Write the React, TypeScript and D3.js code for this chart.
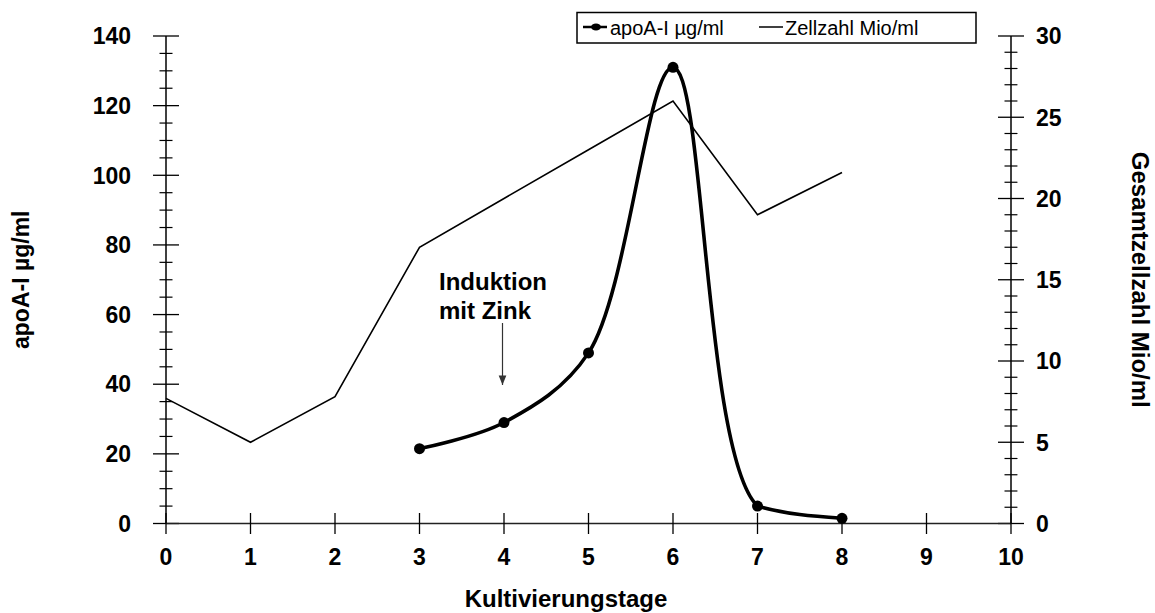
import React from "react";
import * as d3 from "d3";

// Kultivierungstage
const days = [0, 1, 2, 3, 4, 5, 6, 7, 8];
const apoDays = [3, 4, 5, 6, 7, 8];
const apoValues = [21.5, 29, 49, 131, 5, 1.5];
const cellValues = [7.7, 5, 7.8, 17, 20, 23, 26, 19, 21.6];
const xTicks = [0, 1, 2, 3, 4, 5, 6, 7, 8, 9, 10];
const leftTicks = [0, 20, 40, 60, 80, 100, 120, 140];
const rightTicks = [0, 5, 10, 15, 20, 25, 30];

const W = 1155;
const H = 613;
const left = 166;
const right = 1011;
const top = 36;
const bottom = 523.5;
const font = "Arial, 'Liberation Sans', Helvetica, sans-serif";

const App: React.FC = () => {
  const x = d3.scaleLinear().domain([0, 10]).range([left, right]);
  const yL = d3.scaleLinear().domain([0, 140]).range([bottom, top]);
  const yR = d3.scaleLinear().domain([0, 30]).range([bottom, top]);

  // smoothed line: catmull-rom up to day 7, monotone tail so it doesn't dip
  const apoLine = d3
    .line<number>()
    .x((_, i) => x(apoDays[i]))
    .y((d) => yL(d))
    .curve(d3.curveCatmullRom.alpha(0.5));
  const apoTail = d3
    .line<number>()
    .x((_, i) => x(apoDays[i]))
    .y((d) => yL(d))
    .curve(d3.curveMonotoneX);
  const split = x(7);

  const cellLine = d3
    .line<number>()
    .x((_, i) => x(days[i]))
    .y((d) => yR(d));

  const leftMinor = d3.range(0, 141, 5).filter((v) => v % 20 !== 0);
  const rightMinor = d3.range(0, 31, 1).filter((v) => v % 5 !== 0);

  return (
    <svg
      width={W}
      height={H}
      style={{ position: "absolute", left: 0, top: 0, background: "#fff" }}
      fontFamily={font}
    >
      <defs>
        <marker
          id="arrow"
          viewBox="0 0 10 10"
          refX="10"
          refY="5"
          markerWidth="8"
          markerHeight="8"
          orient="auto"
        >
          <path d="M0,1 L10,5 L0,9 z" fill="#333" />
        </marker>
        <clipPath id="clipA">
          <rect x={0} y={0} width={split} height={H} />
        </clipPath>
        <clipPath id="clipB">
          <rect x={split} y={0} width={W - split} height={H} />
        </clipPath>
      </defs>

      {/* left axis */}
      <line x1={left} x2={left} y1={top} y2={bottom} stroke="#000" strokeWidth={1.5} />
      {leftTicks.map((t) => (
        <g key={"l" + t}>
          <line x1={left - 13} x2={left + 13} y1={yL(t)} y2={yL(t)} stroke="#000" strokeWidth={1.3} />
          <text
            x={131}
            y={yL(t)}
            dy="0.36em"
            textAnchor="end"
            fontSize={23}
            fontWeight="bold"
          >
            {t}
          </text>
        </g>
      ))}
      {leftMinor.map((t) => (
        <line key={"lm" + t} x1={left - 6.5} x2={left + 6.5} y1={yL(t)} y2={yL(t)} stroke="#000" strokeWidth={1.2} />
      ))}

      {/* right axis */}
      <line x1={right} x2={right} y1={top} y2={bottom} stroke="#000" strokeWidth={1.5} />
      {rightTicks.map((t) => (
        <g key={"r" + t}>
          <line x1={right - 13} x2={right + 13} y1={yR(t)} y2={yR(t)} stroke="#000" strokeWidth={1.3} />
          <text
            x={1036}
            y={yR(t)}
            dy="0.36em"
            textAnchor="start"
            fontSize={23}
            fontWeight="bold"
          >
            {t}
          </text>
        </g>
      ))}
      {rightMinor.map((t) => (
        <line key={"rm" + t} x1={right - 6.5} x2={right + 6.5} y1={yR(t)} y2={yR(t)} stroke="#000" strokeWidth={1.2} />
      ))}

      {/* x axis */}
      <line x1={left} x2={right} y1={bottom} y2={bottom} stroke="#222" strokeWidth={1.5} />
      {xTicks.map((t) => (
        <g key={"x" + t}>
          <line x1={x(t)} x2={x(t)} y1={bottom - 10.5} y2={bottom + 10.5} stroke="#000" strokeWidth={1.3} />
          <text x={x(t)} y={565} textAnchor="middle" fontSize={23} fontWeight="bold">
            {t}
          </text>
        </g>
      ))}

      {/* axis titles */}
      <text x={566} y={607} textAnchor="middle" fontSize={24} fontWeight="bold">
        Kultivierungstage
      </text>
      <text
        transform={`translate(29,${(top + bottom) / 2}) rotate(-90)`}
        textAnchor="middle"
        fontSize={23}
        fontWeight="bold"
      >
        apoA-I µg/ml
      </text>
      <text
        transform={`translate(1132,${(top + bottom) / 2}) rotate(90)`}
        textAnchor="middle"
        fontSize={24}
        fontWeight="bold"
      >
        Gesamtzellzahl Mio/ml
      </text>

      {/* Zellzahl */}
      <path d={cellLine(cellValues) ?? ""} fill="none" stroke="#000" strokeWidth={1.6} />

      {/* apoA-I */}
      <path d={apoLine(apoValues) ?? ""} fill="none" stroke="#000" strokeWidth={3.6} clipPath="url(#clipA)" />
      <path d={apoTail(apoValues) ?? ""} fill="none" stroke="#000" strokeWidth={3.6} clipPath="url(#clipB)" />
      {apoValues.map((v, i) => (
        <circle key={"c" + i} cx={x(apoDays[i])} cy={yL(v)} r={5.5} fill="#000" />
      ))}

      {/* annotation */}
      <text x={439} y={290} fontSize={24} fontWeight="bold">
        <tspan x={439}>Induktion</tspan>
        <tspan x={439} dy={29}>mit Zink</tspan>
      </text>
      <line
        x1={x(4) - 1.5}
        x2={x(4) - 1.5}
        y1={323}
        y2={385}
        stroke="#333"
        strokeWidth={1.2}
        markerEnd="url(#arrow)"
      />

      {/* legend */}
      <rect x={577} y={12.5} width={399} height={30.5} fill="#fff" stroke="#000" strokeWidth={1.5} />
      <line x1={583} x2={607} y1={27} y2={27} stroke="#000" strokeWidth={2.5} />
      <ellipse cx={596} cy={27} rx={5} ry={3.5} fill="#000" />
      <text x={610} y={35} fontSize={20}>
        apoA-I µg/ml
      </text>
      <line x1={759} x2={783} y1={27} y2={27} stroke="#000" strokeWidth={1.5} />
      <text x={785} y={35} fontSize={20}>
        Zellzahl Mio/ml
      </text>
    </svg>
  );
};

export default App;
